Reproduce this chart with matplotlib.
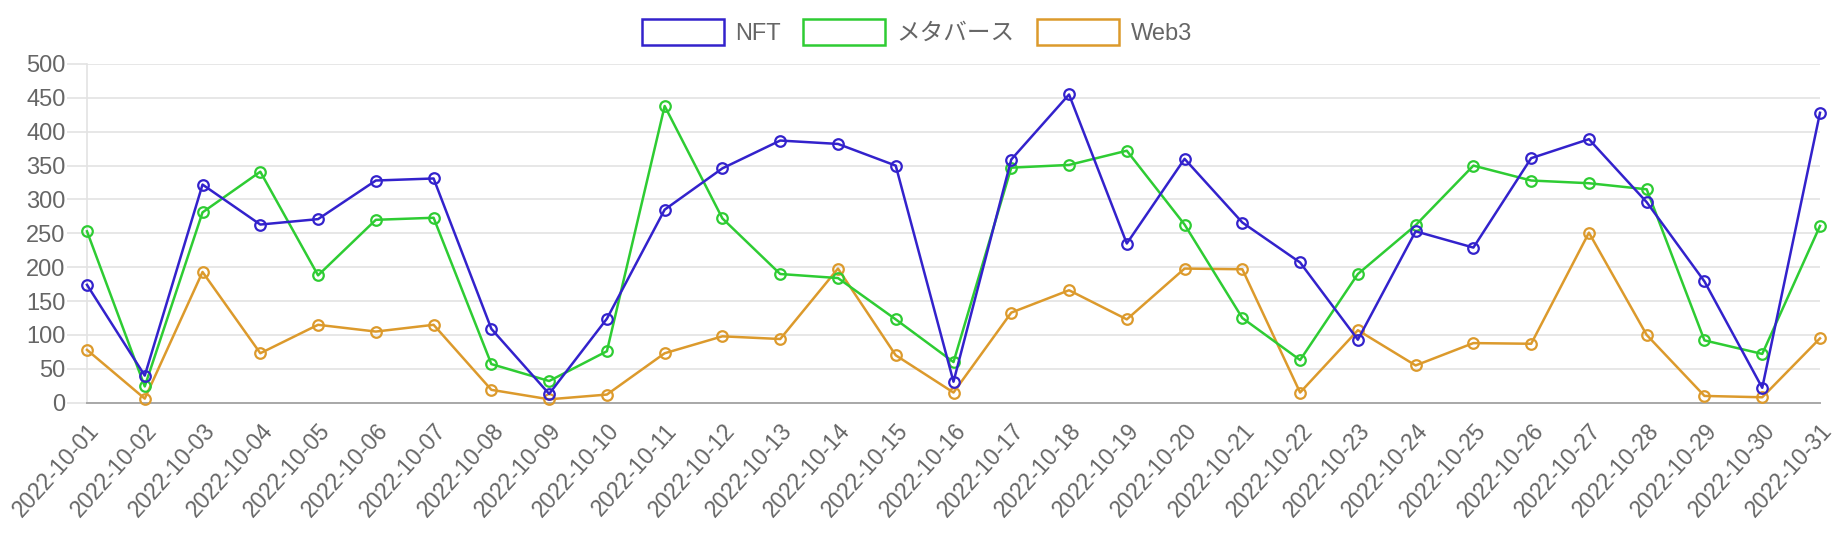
import matplotlib
matplotlib.use("Agg")
from matplotlib import pyplot as plt
from matplotlib.patches import Patch

plt.rcParams['font.family'] = ['Liberation Sans', 'Noto Sans CJK JP', 'DejaVu Sans']

# data
dates = ["2022-10-{0:02d}".format(d) for d in range(1, 32)]
nft = [174, 40, 322, 263, 271, 328, 331, 109, 13, 124, 285, 346, 387, 382, 350, 31,
       359, 455, 235, 360, 266, 207, 93, 253, 229, 361, 389, 296, 179, 22, 428]
metaverse = [253, 24, 281, 341, 188, 270, 273, 57, 32, 76, 438, 272, 190, 184, 123, 60,
             347, 351, 372, 263, 125, 63, 190, 262, 350, 328, 324, 315, 92, 72, 261]
web3 = [78, 6, 193, 73, 115, 105, 115, 19, 5, 12, 73, 98, 94, 198, 70, 15,
        133, 166, 123, 198, 197, 15, 107, 55, 88, 87, 251, 100, 10, 8, 95]
labels = ["NFT", "メタバース", "Web3"]
colors = ["#3322cc", "#2ecc33", "#dc9a2c"]

W, H = 1834, 560
fig = plt.figure(figsize=(W / 100, H / 100), dpi=100)
ax = fig.add_axes([87 / W, 1 - 402.7 / H, (1820 - 87) / W, (402.7 - 64) / H])

series = [nft, metaverse, web3]
for i in range(len(series)):
    ax.plot(dates, series[i], color=colors[i], linewidth=1.8, marker='o', markersize=7.6,
            markerfacecolor='none', markeredgewidth=1.6, clip_on=False, zorder=5 - i)

ax.set_xlim(0, len(dates) - 1)
ax.set_ylim(0, 500)
ax.set_yticks(range(0, 501, 50))
ax.grid(axis='y', color='#e3e3e3', linewidth=1.2, zorder=0)
ax.set_axisbelow(True)

grey = '#666666'
ax.tick_params(axis='y', length=14.5, width=1.2, color='#e3e3e3', pad=1, labelsize=17, labelcolor=grey)
ax.tick_params(axis='x', length=0, pad=12, labelsize=16.5, labelcolor=grey)
plt.setp(ax.get_xticklabels(), rotation=48, ha='right', va='top', rotation_mode='anchor')
ax.yaxis.get_major_ticks()[0].tick1line.set_color('#a8a8a8')

for s in ['top', 'right']:
    ax.spines[s].set_visible(False)
ax.spines['left'].set_color('#e3e3e3')
ax.spines['left'].set_linewidth(1.2)
ax.spines['bottom'].set_color('#a8a8a8')
ax.spines['bottom'].set_linewidth(1.4)

handles = [Patch(facecolor='white', edgecolor=c, linewidth=1.8) for c in colors]
fig.legend(handles, labels, loc='center', bbox_to_anchor=(0.5, 1 - 32 / H), ncol=3,
           frameon=False, fontsize=17, labelcolor=grey, handlelength=3.45, handleheight=1.3,
           handletextpad=0.5, columnspacing=0.95, borderpad=0)

fig.savefig("out.png", dpi=100)
